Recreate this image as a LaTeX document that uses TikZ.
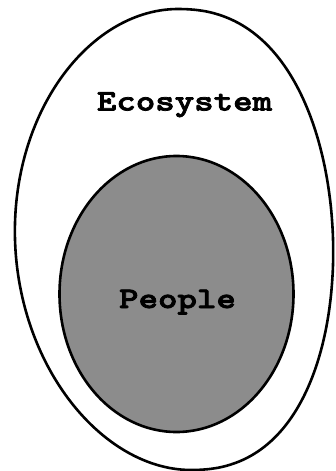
\documentclass[tikz,border=0pt]{standalone}
\usepackage{fontspec}
\newfontfamily\slabmono{lmmonolt10-bold.otf}[FakeBold=2.5, FakeStretch=1.24]
\usetikzlibrary{shapes.geometric}
\tikzset{
  outline/.style={draw=black, line width=2.6bp},
  labeltext/.style={font=\slabmono\fontsize{30}{34}\selectfont, inner sep=0pt, anchor=base, text=black},
  innerset/.style={ellipse, outline, fill=black!45, minimum width=234bp, minimum height=276bp, inner sep=0pt}
}
\begin{document}
\begin{tikzpicture}[x=1bp,y=-1bp]
\useasboundingbox (0,0) rectangle (335,471);
% outer egg-shaped set (Ecosystem)
\draw[outline] plot[domain=0.5:179.5, samples=120, smooth, variable=\t]
   ({174+159*pow(sin(\t),0.88)-6.5*cos(\t)+9.5*cos(\t)*cos(\t)}, {239.5-230.5*cos(\t)})
  -- plot[domain=180.5:359.5, samples=120, smooth, variable=\t]
   ({175+160*sin(\t)-6.5*cos(\t)+9.5*cos(\t)*cos(\t)}, {239.5-230.5*cos(\t)})
  -- cycle;
\node[labeltext] (ecolabel) at (184.5,110.5) {Ecosystem};
% inner set (People)
\node[innerset] (people) at (176.5,294) {};
\node[labeltext] (peoplelabel) at (177.5,308) {People};
\end{tikzpicture}
\end{document}
